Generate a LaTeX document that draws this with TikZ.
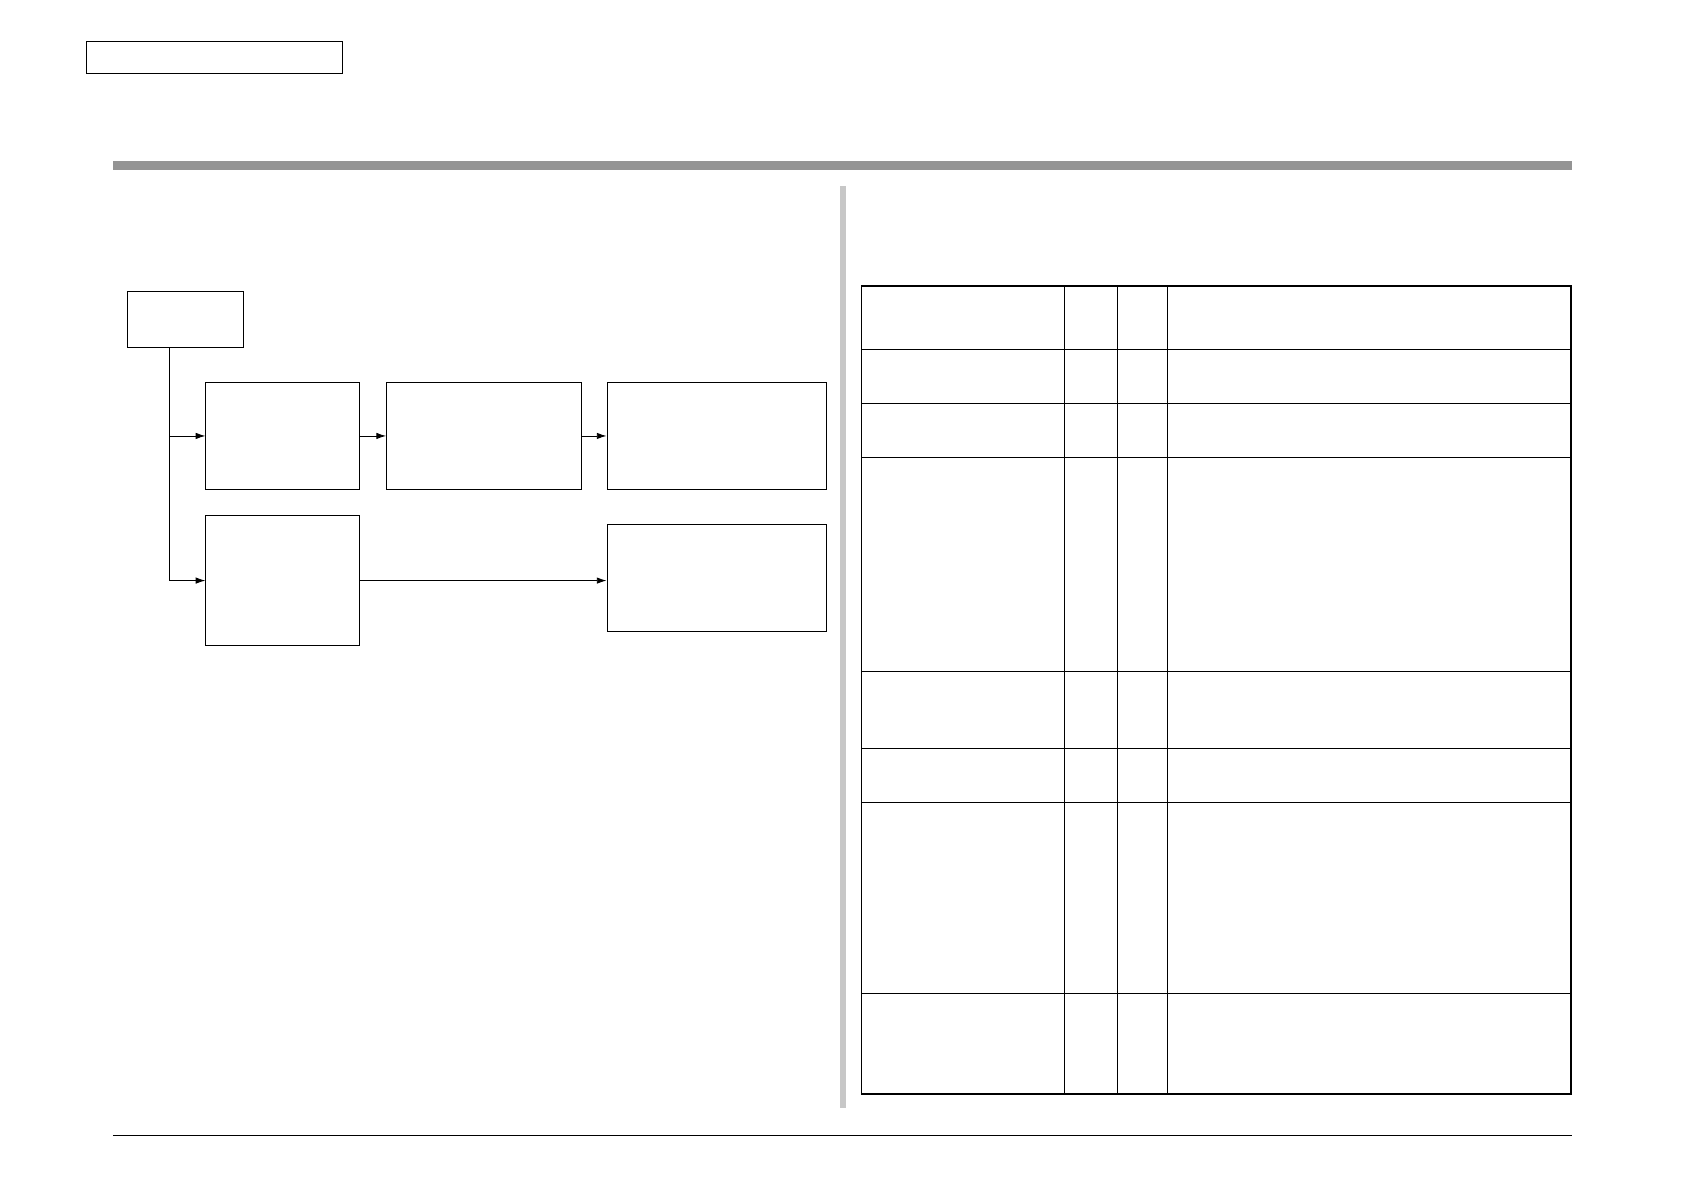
\documentclass[tikz,border=0pt]{standalone}
\usetikzlibrary{arrows.meta,positioning}
\begin{document}
\begin{tikzpicture}[x=1pt,y=-1pt]

      \tikzset{block/.style={draw, rectangle, inner sep=0pt, line width=0.8pt, anchor=north west},
               flow/.style={-{Latex[length=9pt,width=6pt]}, line width=0.8pt}}
      \useasboundingbox (0,0) rectangle (1566,1107.6);
%% Header
      	\node[block, minimum width=238pt, minimum height=30pt] (title) at (80,38) {};
      	\fill[black!42] (105,150) rectangle (1462,158);
      	\fill[black!22] (781,173) rectangle (787,1030);
      	\draw[line width=0.8pt] (105,1056) -- (1462,1056);
%% Blocks
      	\node[block, minimum width=108pt, minimum height=52pt] (start) at (118,271) {};
      	\node[block, minimum width=143pt, minimum height=100pt] (b1) at (191,355) {};
      	\node[block, minimum width=181pt, minimum height=100pt] (b2) at (359,355) {};
      	\node[block, minimum width=204pt, minimum height=100pt] (b3) at (564,355) {};
      	\node[block, minimum width=143pt, minimum height=121pt] (c1) at (191,479) {};
      	\node[block, minimum width=204pt, minimum height=100pt] (c2) at (564,487) {};
      	\coordinate (s) at (158,323);
%Edges
		\draw[flow] (s) |- (b1.west);
		\draw[flow] (s) |- (c1.west);
		\draw[flow] (b1) -- (b2);
		\draw[flow] (b2) -- (b3);
		\draw[flow] (c1.east) -- (c1.east -| c2.west);
%% Table
		\draw[line width=1.6pt] (801,266) rectangle (1461,1017);
		\foreach \x in {990,1039,1086}
			\draw[line width=0.8pt] (\x,266) -- (\x,1017);
		\draw[line width=1.4pt] (801,325) -- (1461,325);
		\foreach \y in {375,425,624,696,746,924}
			\draw[line width=0.8pt] (801,\y) -- (1461,\y);

	\end{tikzpicture}
\end{document}
